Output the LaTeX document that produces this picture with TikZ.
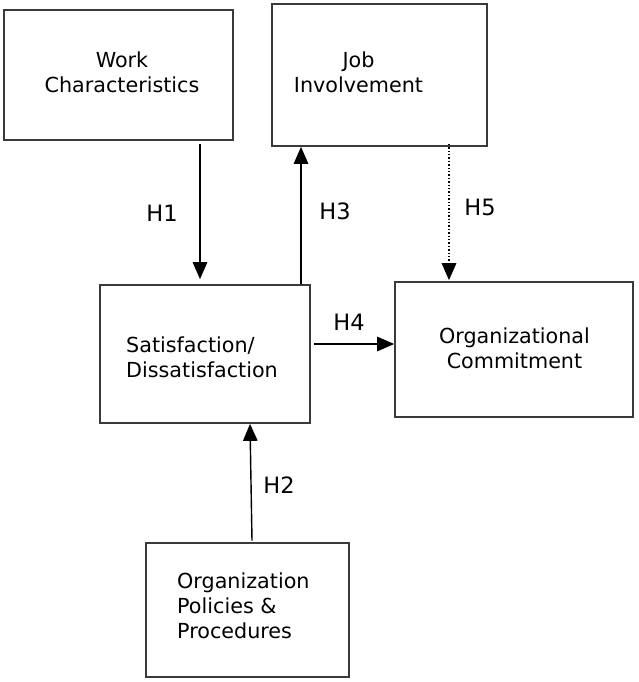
\documentclass[tikz,border=0pt]{standalone}
\usepackage{fontspec}
\setmainfont{DejaVu Sans}
\usetikzlibrary{arrows.meta,calc}
\definecolor{boxline}{HTML}{3A3A3A}
\tikzset{
  x=1pt, y=-1pt,
  box/.style={draw=boxline, line width=1.7pt, rectangle, inner sep=0pt},
  txt/.style={font=\fontsize{20.7}{25}\selectfont, inner sep=0pt},
  hlab/.style={font=\fontsize{22.5}{26}\selectfont, inner sep=0pt},
  arr/.style={line width=1.4pt, -{Triangle[length=17pt,width=14.5pt]}},
  dotarr/.style={line width=1.4pt, dotted, -{Triangle[length=17pt,width=14.5pt]}}
}
\begin{document}
\begin{tikzpicture}
\useasboundingbox (0,0) rectangle (638,682);
% boxes
\node[box, minimum width=229pt, minimum height=130pt] (work) at (118.5,75) {};
\node[box, minimum width=215pt, minimum height=142pt] (job) at (379.5,75) {};
\node[box, minimum width=210pt, minimum height=138pt] (sat) at (205,354) {};
\node[box, minimum width=238pt, minimum height=135pt] (oc) at (514,349.5) {};
\node[box, minimum width=203pt, minimum height=134pt] (pol) at (247.5,610) {};
% texts
\node[txt, align=center] (worktxt) at (122,72) {Work\\Characteristics};
\node[txt, align=center] (jobtxt) at (358.5,72) {Job\\Involvement};
\node[txt, align=left, anchor=west] (sattxt) at (126,357) {Satisfaction/\\Dissatisfaction};
\node[txt, align=center] (octxt) at (514.5,348) {Organizational\\Commitment};
\node[txt, align=left, anchor=west] (poltxt) at (177,606) {Organization\\Policies \&\\Procedures};
% connector positions
\coordinate (c1) at (200,0);
\coordinate (c3) at (301,0);
\coordinate (c5) at (449,0);
\coordinate (c4) at (0,344);
% connectors
\draw[arr, shorten <=3pt, shorten >=5pt] (work.south -| c1) -- (sat.north -| c1);
\draw[arr] (sat.north -| c3) -- (job.south -| c3);
\draw[dotarr, shorten <=-3pt, shorten >=1pt] (job.south -| c5) -- (oc.north -| c5);
\draw[arr, shorten <=3pt] (sat.east |- c4) -- (oc.west |- c4);
\draw[arr] ($(pol.north)+(4.5,-1.5)$) -- ($(sat.south)+(45,0)$);
% labels
\node[hlab] (h1) at (162,213) {H1};
\node[hlab] (h3) at (335,211) {H3};
\node[hlab] (h5) at (480,207) {H5};
\node[hlab] (h4) at (349,322) {H4};
\node[hlab] (h2) at (279,485) {H2};
\end{tikzpicture}
\end{document}
